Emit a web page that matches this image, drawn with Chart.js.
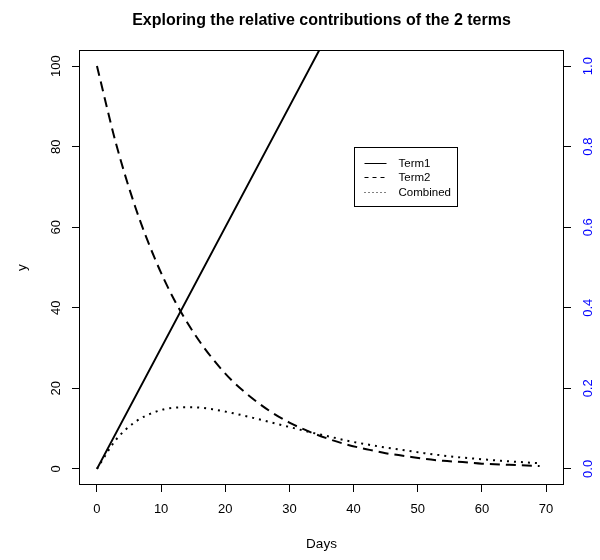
<!DOCTYPE html>
<html>
<head>
<meta charset="utf-8">
<script src="https://cdn.jsdelivr.net/npm/chart.js@4.4.1/dist/chart.umd.min.js"></script>
<style>
  html, body { margin: 0; padding: 0; background: #fff; }
</style>
</head>
<body>
<canvas id="termChart" width="600" height="560"></canvas>
<script>
// values, every 3 days
const days = [0, 3, 6, 9, 12, 15, 18, 21, 24, 27, 30, 33, 36, 39, 42, 45, 48, 51, 54, 57, 60, 63, 66, 69];
const term1 = [0, 9, 18, 27, 36, 45, 54, 63, 72, 81, 90, 99, 108, 117, 126, 135, 144, 153, 162, 171, 180, 189, 198, 207];
const term2 = [100, 80.6, 64.9, 52.3, 42.1, 34.0, 27.4, 22.0, 17.8, 14.3, 11.5, 9.3, 7.5, 6.0, 4.9, 3.9, 3.2, 2.5, 2.0, 1.7, 1.3, 1.1, 0.9, 0.7];
const combined = [0, 7.3, 11.7, 14.1, 15.2, 15.3, 14.8, 13.9, 12.8, 11.6, 10.4, 9.2, 8.1, 7.0, 6.1, 5.3, 4.6, 3.9, 3.3, 2.8, 2.4, 2.0, 1.7, 1.4];

const seriesNames = ['Term1', 'Term2', 'Combined'];
const xTicks = [0, 10, 20, 30, 40, 50, 60, 70];
const yTicks = [0, 20, 40, 60, 80, 100];
const y2Ticks = [0, 0.2, 0.4, 0.6, 0.8, 1.0];
const y2Labels = ['0.0', '0.2', '0.4', '0.6', '0.8', '1.0'];
const legendAt = [40, 80]; // legend top-left corner in data units

const FONT = '"Liberation Sans", Arial, Helvetica, sans-serif';

function pts(ys) {
    return days.map((d, i) => ({ x: d, y: ys[i] }));
}

// draws the R-style bits: box, title, rotated y tick labels, legend
const rStyle = {
    id: 'rStyle',
    afterDraw(chart) {
        const { ctx, chartArea: a, scales } = chart;
        ctx.save();
        ctx.strokeStyle = '#000';
        ctx.lineWidth = 1;
        ctx.setLineDash([]);
        ctx.strokeRect(Math.round(a.left) + 0.5, Math.round(a.top) + 0.5,
            Math.round(a.right - a.left) - 1, Math.round(a.bottom - a.top) - 1);

        ctx.fillStyle = '#000';
        ctx.textAlign = 'center';
        ctx.textBaseline = 'middle';
        ctx.font = 'bold 16px ' + FONT;
        ctx.fillText('Exploring the relative contributions of the 2 terms', (a.left + a.right) / 2, 21);

        ctx.font = '13px ' + FONT;
        yTicks.forEach(v => {
            ctx.save();
            ctx.translate(a.left - 23, scales.y.getPixelForValue(v));
            ctx.rotate(-Math.PI / 2);
            ctx.fillText(String(v), 0, 0);
            ctx.restore();
        });
        ctx.fillStyle = '#0000ff';
        y2Ticks.forEach((v, i) => {
            ctx.save();
            ctx.translate(a.right + 24, scales.y2.getPixelForValue(v));
            ctx.rotate(-Math.PI / 2);
            ctx.fillText(y2Labels[i], 0, 0);
            ctx.restore();
        });

        // legend
        const lx = Math.round(scales.x.getPixelForValue(legendAt[0])) + 0.5;
        const ly = Math.round(scales.y.getPixelForValue(legendAt[1])) + 0.5;
        ctx.strokeStyle = '#000';
        ctx.strokeRect(lx, ly, 103, 59);
        ctx.font = '11.5px ' + FONT;
        ctx.textAlign = 'left';
        ctx.fillStyle = '#000';
        const dashes = [[], [4, 4], [1, 3]];
        chart.data.datasets.forEach((ds, i) => {
            const ry = Math.round(ly + 15 + i * 14.5);
            ctx.setLineDash(dashes[i]);
            ctx.beginPath();
            ctx.moveTo(lx + 10, ry + 0.5);
            ctx.lineTo(lx + 32, ry + 0.5);
            ctx.stroke();
            ctx.fillText(ds.label, lx + 44, ry + 1);
        });
        ctx.restore();
    }
};

const ctxTerms = document.getElementById('termChart').getContext('2d');
const termChart = new Chart(ctxTerms, {
    type: 'line',
    data: {
        datasets: [
            {
                label: seriesNames[0],
                data: pts(term1),
                borderColor: '#000',
                borderWidth: 2,
                pointRadius: 0,
            },
            {
                label: seriesNames[1],
                data: pts(term2),
                borderColor: '#000',
                borderWidth: 2,
                borderDash: [10, 6],
                pointRadius: 0,
                cubicInterpolationMode: 'monotone',
            },
            {
                label: seriesNames[2],
                data: pts(combined),
                borderColor: '#000',
                borderWidth: 2,
                borderDash: [2, 5],
                pointRadius: 0,
                cubicInterpolationMode: 'monotone',
            },
        ],
    },
    options: {
        responsive: false,
        animation: false,
        layout: {
            padding: { top: 50, left: 0, right: 0, bottom: 0 },
        },
        plugins: {
            legend: { display: false },
            tooltip: { enabled: false },
        },
        scales: {
            x: {
                type: 'linear',
                min: -2.8,
                max: 72.8,
                afterBuildTicks: s => { s.ticks = xTicks.map(v => ({ value: v })); },
                afterFit: s => { s.height = 75; },
                grid: { drawOnChartArea: false, drawTicks: true, tickLength: 7, color: '#000' },
                border: { display: false },
                ticks: { color: '#000', padding: 10, maxRotation: 0, font: { family: FONT, size: 13 } },
                title: { display: true, text: 'Days', color: '#000', font: { family: FONT, size: 13.5 }, padding: { bottom: 8 } },
            },
            y: {
                type: 'linear',
                position: 'left',
                min: -4,
                max: 104,
                afterBuildTicks: s => { s.ticks = yTicks.map(v => ({ value: v })); },
                afterFit: s => { s.width = 79; },
                grid: { drawOnChartArea: false, drawTicks: true, tickLength: 7, color: '#000' },
                border: { display: false },
                ticks: { display: false },
                title: { display: true, text: 'y', color: '#000', font: { family: FONT, size: 13.5 }, padding: { top: 14 } },
            },
            y2: {
                type: 'linear',
                position: 'right',
                min: -0.04,
                max: 1.04,
                afterBuildTicks: s => { s.ticks = y2Ticks.map(v => ({ value: v })); },
                afterFit: s => { s.width = 36; },
                grid: { drawOnChartArea: false, drawTicks: true, tickLength: 7, color: '#000' },
                border: { display: false },
                ticks: { display: false },
            },
        },
    },
    plugins: [rStyle],
});
</script>
</body>
</html>
